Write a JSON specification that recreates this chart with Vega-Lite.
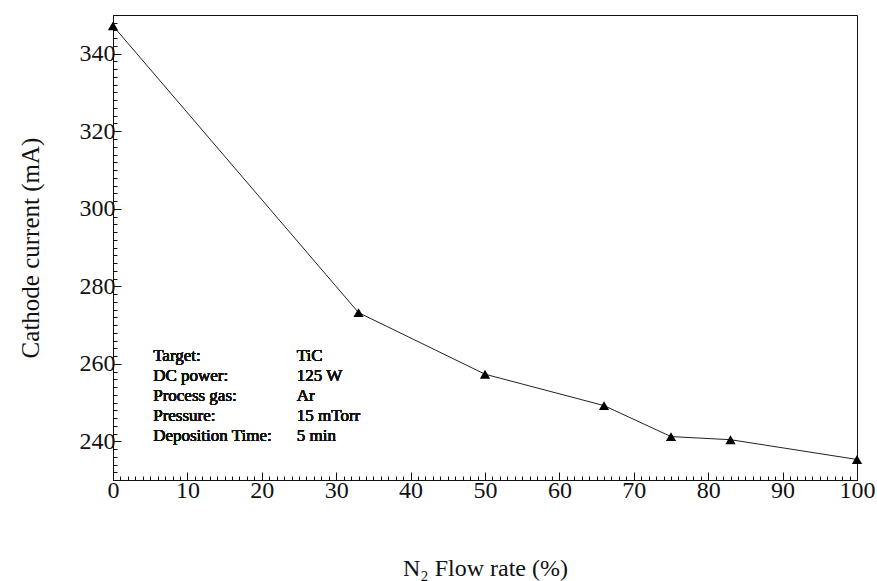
{
  "$schema": "https://vega.github.io/schema/vega-lite/v6.json",
  "width": 744,
  "height": 465,
  "autosize": {"type": "none"},
  "padding": {"left": 113, "top": 15, "right": 20, "bottom": 101},
  "background": "white",
  "config": {
    "font": "Liberation Serif",
    "view": {"stroke": "#111111", "strokeWidth": 1},
    "text": {"font": "Liberation Serif"},
    "axis": {
      "grid": false,
      "domainColor": "#111111",
      "tickColor": "#111111",
      "labelColor": "#111111",
      "titleColor": "#111111",
      "labelFont": "Liberation Serif",
      "titleFont": "Liberation Serif",
      "titleFontWeight": "normal"
    }
  },
  "data": {
    "values": [
      {"flow": 0, "current": 347.2},
      {"flow": 33, "current": 273.2},
      {"flow": 50, "current": 257.3},
      {"flow": 66, "current": 249.2},
      {"flow": 75, "current": 241.2},
      {"flow": 83, "current": 240.4},
      {"flow": 100, "current": 235.3}
    ]
  },
  "layer": [
    {
      "mark": {"type": "line", "color": "#222222", "strokeWidth": 1},
      "encoding": {
        "x": {
          "field": "flow", "type": "quantitative",
          "scale": {"domain": [0, 100], "nice": false, "zero": false},
          "axis": {
            "orient": "bottom", "title": "N₂ Flow rate (%)", "values": [0, 10, 20, 30, 40, 50, 60, 70, 80, 90, 100],
            "tickSize": -8, "labelPadding": 6, "labelFontSize": 24,
            "titleFontSize": 24, "titlePadding": 54, "labelFlush": false, "labelOverlap": false
          }
        },
        "y": {
          "field": "current", "type": "quantitative",
          "scale": {"domain": [230, 350], "nice": false, "zero": false},
          "axis": {
            "orient": "left", "title": "Cathode current (mA)", "values": [240, 260, 280, 300, 320, 340],
            "tickSize": -8, "labelPadding": 6, "labelFontSize": 24,
            "titleFontSize": 25, "titlePadding": 36, "labelFlush": false
          }
        }
      }
    },
    {
      "mark": {"type": "point", "shape": "triangle-up", "filled": true, "color": "#000000", "size": 105, "opacity": 1},
      "encoding": {
        "x": {
          "field": "flow", "type": "quantitative",
          "axis": {"orient": "bottom", "title": null, "labels": false, "domain": false, "tickCount": 100, "tickSize": -4}
        },
        "y": {
          "field": "current", "type": "quantitative",
          "axis": {"orient": "left", "title": null, "labels": false, "domain": false, "tickCount": 60, "tickSize": -4}
        }
      }
    },
    {
      "mark": {"type": "text", "align": "left", "baseline": "top", "fontSize": 17, "lineHeight": 20, "lineBreak": "\n", "color": "#111111", "font": "Liberation Serif", "fontWeight": "normal"},
      "encoding": {
        "x": {"datum": 5.4, "type": "quantitative", "axis": null},
        "y": {"datum": 264.0, "type": "quantitative", "axis": null},
        "text": {"value": "Target:\nDC power:\nProcess gas:\nPressure:\nDeposition Time:"}
      }
    },
    {
      "mark": {"type": "text", "align": "left", "baseline": "top", "fontSize": 17, "lineHeight": 20, "lineBreak": "\n", "color": "#111111", "font": "Liberation Serif", "fontWeight": "normal"},
      "encoding": {
        "x": {"datum": 24.7, "type": "quantitative", "axis": null},
        "y": {"datum": 264.0, "type": "quantitative", "axis": null},
        "text": {"value": "TiC\n 125 W\n  Ar\n 15 mTorr\n 5 min"}
      }
    }
  ],
  "resolve": {"axis": {"x": "independent", "y": "independent"}}
}
